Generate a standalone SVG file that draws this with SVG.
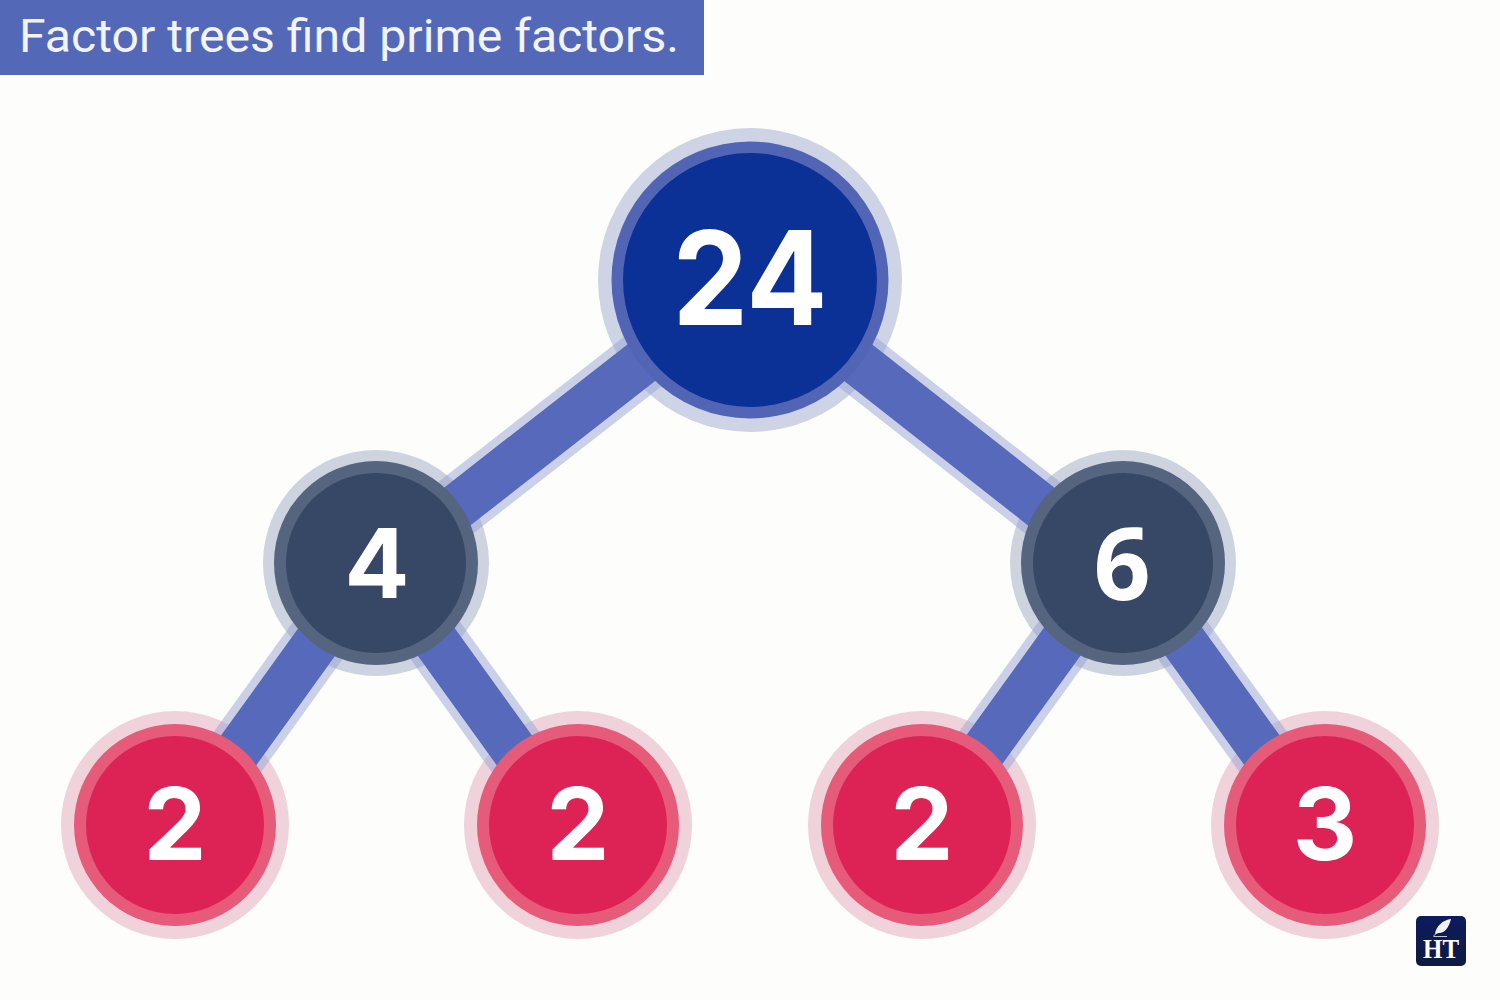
<svg xmlns="http://www.w3.org/2000/svg" width="1500" height="1000" viewBox="0 0 1500 1000">
<defs>
<linearGradient id="badgeFill" x1="0" y1="0" x2="0" y2="1"><stop offset="0" stop-color="#0c1c5e"/><stop offset="1" stop-color="#0e1a40"/></linearGradient>
</defs>
<style>
.edge-o{stroke:#95a4d3;stroke-opacity:.5;stroke-width:62;fill:none}
.edge-i{stroke:#5669ba;stroke-width:46;fill:none}
.t{font-family:Inter,"Liberation Sans",sans-serif;font-weight:700;fill:#fff;text-anchor:middle}
.o1{fill:#ced4e6}.m1{fill:#5265b5}.i1{fill:#0b3197}
.o2{fill:#cdd3df}.m2{fill:#55657f}.i2{fill:#374766}
.o3{fill:#f0d2da}.m3{fill:#e65a7a}.i3{fill:#dd2355}
</style>
<rect id="background" width="1500" height="1000" fill="#fdfdfb"/>
<g id="title">
<rect width="704" height="75" fill="#5468b8"/>
<text x="19" y="52" font-family="Roboto,Inter,'Liberation Sans',sans-serif" font-size="47" fill="#f2f4fa" textLength="660" lengthAdjust="spacingAndGlyphs">Factor trees find prime factors.</text>
</g>
<g id="halos">
<circle class="o1" cx="750" cy="280" r="152"/>
<circle class="o2" cx="376" cy="563" r="113"/>
<circle class="o2" cx="1123" cy="563" r="113"/>
<circle class="o3" cx="175" cy="825" r="114"/>
<circle class="o3" cx="578" cy="825" r="114"/>
<circle class="o3" cx="922" cy="825" r="114"/>
<circle class="o3" cx="1325" cy="825" r="114"/>
</g>
<g id="connectors">
<path class="edge-o" d="M655 352L440 520M845 352.400L1060 521.300M327.700 626.800L228.800 764M425.300 626.800L524.200 764M1073 626.800L974 764M1173 626.800L1272 764"/>
<path class="edge-i" d="M655 352L440 520M845 352.400L1060 521.300M327.700 626.800L228.800 764M425.300 626.800L524.200 764M1073 626.800L974 764M1173 626.800L1272 764"/>
</g>
<g id="node-24"><circle class="m1" cx="750" cy="280" r="138.500"/><circle class="i1" cx="750" cy="280" r="127"/><text class="t" x="750" y="325" font-size="130" textLength="155" lengthAdjust="spacingAndGlyphs">24</text></g>
<g id="node-4"><circle class="m2" cx="376" cy="563" r="102"/><circle class="i2" cx="376" cy="563" r="90"/><text class="t" x="377" y="598" font-size="96">4</text></g>
<g id="node-6"><circle class="m2" cx="1123" cy="563" r="102"/><circle class="i2" cx="1123" cy="563" r="90"/><text x="1122" y="600" font-family="'Open Sans',Inter,sans-serif" font-weight="700" font-size="100" fill="#fff" text-anchor="middle">6</text></g>
<g id="leaf-2a"><circle class="m3" cx="175" cy="825" r="101"/><circle class="i3" cx="175" cy="825" r="89"/><text class="t" x="175" y="860" font-size="100">2</text></g>
<g id="leaf-2b"><circle class="m3" cx="578" cy="825" r="101"/><circle class="i3" cx="578" cy="825" r="89"/><text class="t" x="578" y="860" font-size="100">2</text></g>
<g id="leaf-2c"><circle class="m3" cx="922" cy="825" r="101"/><circle class="i3" cx="922" cy="825" r="89"/><text class="t" x="922" y="860" font-size="100">2</text></g>
<g id="leaf-3"><circle class="m3" cx="1325" cy="825" r="101"/><circle class="i3" cx="1325" cy="825" r="89"/><text class="t" x="1325" y="860" font-size="100">3</text></g>
<g id="badge">
<rect x="1416" y="916" width="50" height="50" rx="5" fill="url(#badgeFill)"/>
<path d="M1451 919C1443 920 1436 926 1435 934L1439 933C1445 933 1449 927 1451 919Z" fill="#eef0f6"/>
<path d="M1433 936.500L1442 928M1434 936.500H1447" stroke="#eef0f6" stroke-width=".8" fill="none"/>
<text x="1441" y="958" font-family="'Liberation Serif',serif" font-weight="700" font-size="27" fill="#fff" text-anchor="middle" textLength="36" lengthAdjust="spacingAndGlyphs">HT</text>
</g>
</svg>
